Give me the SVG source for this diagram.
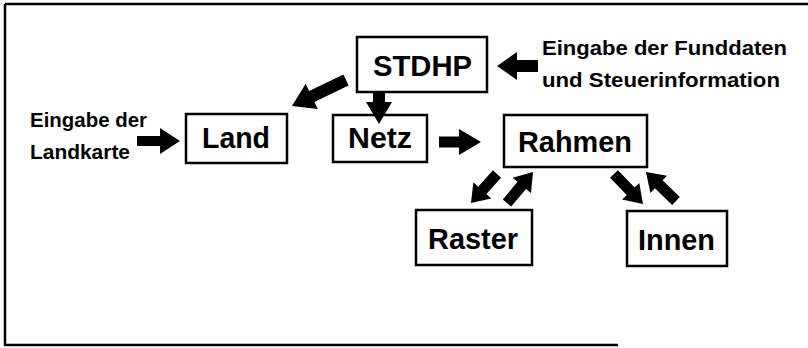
<svg xmlns="http://www.w3.org/2000/svg" width="808" height="348" viewBox="0 0 808 348">
<style>
.frame{fill:none;stroke:#000;stroke-width:2.5}
.box{fill:#fff;stroke:#000;stroke-width:2.5}
.big{font-family:"Liberation Sans",Arial,sans-serif;font-weight:bold;font-size:30px;fill:#000}
.lbl{font-family:"Liberation Sans",Arial,sans-serif;font-weight:bold;font-size:19.5px;fill:#000}
.arrow{fill:#000;stroke:none}
</style>
<rect width="808" height="348" fill="#fff"/>
<path class="frame" d="M5,4 H808 M5,4 V346 M5,345 H618"/>
<g id="labels">
<text class="lbl" x="30" y="127" textLength="117" lengthAdjust="spacingAndGlyphs">Eingabe der</text>
<text class="lbl" x="30" y="159" textLength="100" lengthAdjust="spacingAndGlyphs">Landkarte</text>
<text class="lbl" x="542" y="55" textLength="245" lengthAdjust="spacingAndGlyphs">Eingabe der Funddaten</text>
<text class="lbl" x="542" y="87" textLength="238" lengthAdjust="spacingAndGlyphs">und Steuerinformation</text>
</g>
<g id="STDHP">
<rect class="box" x="357" y="37" width="130" height="55"/>
<text class="big" x="373" y="76" textLength="99" lengthAdjust="spacingAndGlyphs">STDHP</text>
</g>
<g id="Land">
<rect class="box" x="186" y="114" width="101" height="49"/>
<text class="big" x="202" y="148" textLength="68" lengthAdjust="spacingAndGlyphs">Land</text>
</g>
<g id="Netz">
<rect class="box" x="333" y="115" width="94" height="47"/>
<text class="big" x="348" y="148" textLength="64" lengthAdjust="spacingAndGlyphs">Netz</text>
</g>
<g id="Rahmen">
<rect class="box" x="504" y="115" width="143" height="52"/>
<text class="big" x="518" y="152" textLength="114" lengthAdjust="spacingAndGlyphs">Rahmen</text>
</g>
<g id="Raster">
<rect class="box" x="416" y="210" width="116" height="55"/>
<text class="big" x="428" y="249" textLength="90" lengthAdjust="spacingAndGlyphs">Raster</text>
</g>
<g id="Innen">
<rect class="box" x="627" y="211" width="100" height="55"/>
<text class="big" x="638" y="250" textLength="77" lengthAdjust="spacingAndGlyphs">Innen</text>
</g>
<g id="connectors">
<polygon class="arrow" transform="translate(137,141)" points="0,-5 23,-5 23,-13 43,0 23,13 23,5 0,5"/>
<polygon class="arrow" transform="translate(439,142)" points="0,-5.5 20,-5.5 20,-13 42,0 20,13 20,5.5 0,5.5"/>
<polygon class="arrow" transform="translate(538,66) rotate(180)" points="0,-6 21,-6 21,-14 41,0 21,14 21,6 0,6"/>
<polygon class="arrow" transform="translate(379,92) rotate(90)" points="0,-6 10,-6 10,-13 32,0 10,13 10,6 0,6"/>
<polygon class="arrow" transform="translate(346,80) rotate(154.3)" points="0,-6 38,-6 38,-14 60,0 38,14 38,6 0,6"/>
<polygon class="arrow" transform="translate(497,174) rotate(131.9)" points="0,-5.5 22,-5.5 22,-12 39,0 22,12 22,5.5 0,5.5"/>
<polygon class="arrow" transform="translate(507,203) rotate(-50)" points="0,-5.5 23,-5.5 23,-12 40.5,0 23,12 23,5.5 0,5.5"/>
<polygon class="arrow" transform="translate(614,174) rotate(46)" points="0,-5.5 24,-5.5 24,-12 41.7,0 24,12 24,5.5 0,5.5"/>
<polygon class="arrow" transform="translate(676,201) rotate(-136)" points="0,-5.5 24,-5.5 24,-12 41.7,0 24,12 24,5.5 0,5.5"/>
</g>
</svg>
